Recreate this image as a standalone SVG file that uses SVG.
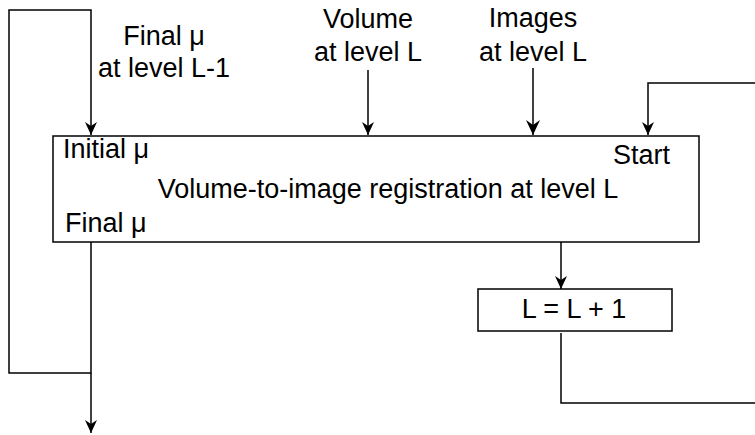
<svg xmlns="http://www.w3.org/2000/svg" width="755" height="435" viewBox="0 0 755 435">
<defs>
<marker id="ah" markerWidth="14" markerHeight="12" refX="13" refY="6" orient="auto" markerUnits="userSpaceOnUse" viewBox="0 0 14 12">
<path d="M0,0 L13,6 L0,12 L4,6 Z" fill="#000"/>
</marker>
<marker id="ahl" markerWidth="16" markerHeight="14" refX="15" refY="7" orient="auto" markerUnits="userSpaceOnUse" viewBox="0 0 16 14">
<path d="M0,0 L15,7 L0,14 L5,7 Z" fill="#000"/>
</marker>
<style>
text{font-family:"Liberation Sans",Arial,sans-serif;font-size:27px;fill:#000}
.ln{fill:none;stroke:#000;stroke-width:1.5}
.bx{fill:#fff;stroke:#000;stroke-width:1.5}
</style>
</defs>
<rect width="755" height="435" fill="#fff"/>
<g id="connectors">
<path class="ln" d="M91,242 V373 H9 V10 H91 V135" marker-end="url(#ah)"/>
<path class="ln" d="M91,373 V433" marker-end="url(#ah)"/>
<path class="ln" d="M368,70 V135" marker-end="url(#ah)"/>
<path class="ln" d="M533,68 V135" marker-end="url(#ahl)"/>
<path class="ln" d="M760,83 H648 V135" marker-end="url(#ah)"/>
<path class="ln" d="M561,242 V289" marker-end="url(#ah)"/>
<path class="ln" d="M561,333 V403 H760"/>
</g>
<g id="label-final-prev">
<text x="164" y="45" text-anchor="middle">Final μ</text>
<text x="164" y="77" text-anchor="middle">at level L-1</text>
</g>
<g id="label-volume">
<text x="368" y="28" text-anchor="middle">Volume</text>
<text x="368" y="61" text-anchor="middle">at level L</text>
</g>
<g id="label-images">
<text x="533" y="27" text-anchor="middle">Images</text>
<text x="533" y="61" text-anchor="middle">at level L</text>
</g>
<g id="registration">
<rect class="bx" x="53" y="136" width="646" height="106"/>
<text x="63" y="158">Initial μ</text>
<text x="613" y="164">Start</text>
<text x="388" y="198" text-anchor="middle">Volume-to-image registration at level L</text>
<text x="65" y="232">Final μ</text>
</g>
<g id="increment">
<rect class="bx" x="478" y="289" width="194" height="42"/>
<text x="574" y="318" text-anchor="middle">L = L + 1</text>
</g>
</svg>
